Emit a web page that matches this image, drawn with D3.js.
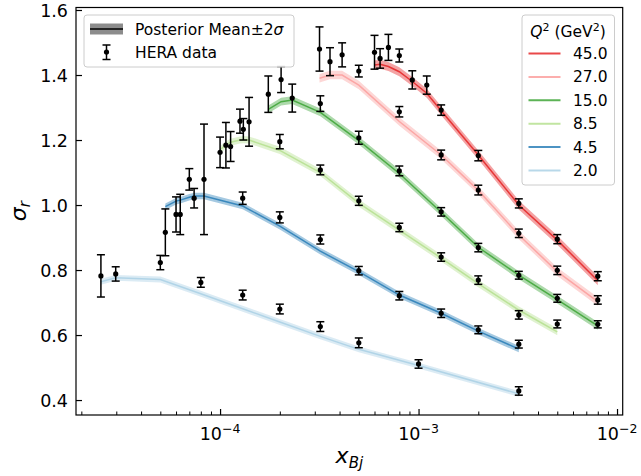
<!DOCTYPE html>
<html>
<head>
<meta charset="utf-8">
<script src="https://cdn.jsdelivr.net/npm/d3@7"></script>
<style>
  body { margin: 0; background: #fff; }
  svg { display: block; font-family: "DejaVu Sans", sans-serif; }
</style>
</head>
<body>
<div id="chart"></div>
<script>
// Q^2 bins (GeV^2), legend order
const q2Labels = ['45.0', '27.0', '15.0', '8.5', '4.5', '2.0'];
const colors = ['#e31a1c', '#fb9a99', '#33a02c', '#b2df8a', '#1f78b4', '#a6cee3'];

// Q^2 = 45
const x45 = [6.0e-4, 6.4e-4, 7.05e-4, 8.0e-4, 9.3e-4, 1.1e-3, 1.3e-3, 2.0e-3, 3.2e-3, 5.0e-3, 8.0e-3];
const data45 = [1.470, 1.451, 1.485, 1.460, 1.385, 1.369, 1.292, 1.152, 1.005, 0.895, 0.781];
const err45 = [0.052, 0.030, 0.040, 0.020, 0.028, 0.028, 0.016, 0.016, 0.014, 0.014, 0.014];
const fit45 = [1.431, 1.433, 1.426, 1.410, 1.380, 1.344, 1.290, 1.154, 1.000, 0.892, 0.767];

// Q^2 = 27
const x27 = [3.17e-4, 3.58e-4, 4.12e-4, 5.0e-4, 8.0e-4, 1.3e-3, 2.0e-3, 3.2e-3, 5.0e-3, 8.0e-3];
const data27 = [1.480, 1.441, 1.462, 1.412, 1.287, 1.154, 1.046, 0.913, 0.799, 0.708];
const err27 = [0.068, 0.043, 0.037, 0.018, 0.016, 0.015, 0.015, 0.013, 0.013, 0.013];
const fit27 = [1.390, 1.400, 1.400, 1.369, 1.257, 1.154, 1.045, 0.908, 0.795, 0.703];

// Q^2 = 15
const x15 = [1.75e-4, 2.03e-4, 2.31e-4, 3.2e-4, 5.0e-4, 8.0e-4, 1.3e-3, 2.0e-3, 3.2e-3, 5.0e-3, 8.0e-3];
const data15 = [1.341, 1.386, 1.329, 1.312, 1.207, 1.105, 0.979, 0.869, 0.784, 0.713, 0.633];
const err15 = [0.056, 0.040, 0.043, 0.024, 0.020, 0.015, 0.013, 0.013, 0.012, 0.012, 0.011];
const fit15 = [1.294, 1.318, 1.323, 1.285, 1.198, 1.097, 0.978, 0.870, 0.784, 0.709, 0.628];

// Q^2 = 8.5
const x8p5 = [1.0e-4, 1.07e-4, 1.13e-4, 1.26e-4, 1.31e-4, 1.4e-4, 2.0e-4, 3.2e-4, 5.0e-4, 8.0e-4, 1.3e-3, 2.0e-3, 3.2e-3, 5.0e-3];
const data8p5 = [1.162, 1.184, 1.180, 1.258, 1.233, 1.256, 1.195, 1.108, 1.013, 0.931, 0.840, 0.769, 0.662, 0.634];
const err8p5 = [0.047, 0.070, 0.046, 0.037, 0.033, 0.075, 0.022, 0.015, 0.014, 0.013, 0.013, 0.013, 0.013, 0.012];
const fit8p5 = [1.170, 1.185, 1.193, 1.200, 1.201, 1.200, 1.168, 1.100, 1.006, 0.923, 0.837, 0.758, 0.677, 0.610];

// Q^2 = 4.5
const x4p5 = [5.3e-5, 6.0e-5, 6.3e-5, 7.0e-5, 7.4e-5, 8.3e-5, 1.3e-4, 2.0e-4, 3.2e-4, 5.0e-4, 8.0e-4, 1.3e-3, 2.0e-3, 3.2e-3];
const data4p5 = [0.916, 0.971, 0.971, 1.079, 1.021, 1.079, 1.021, 0.962, 0.894, 0.798, 0.721, 0.667, 0.616, 0.572];
const err4p5 = [0.072, 0.054, 0.062, 0.033, 0.030, 0.170, 0.019, 0.017, 0.014, 0.013, 0.013, 0.013, 0.012, 0.012];
const fit4p5 = [0.995, 1.012, 1.015, 1.024, 1.028, 1.028, 0.997, 0.935, 0.858, 0.795, 0.723, 0.667, 0.612, 0.557];

// Q^2 = 2.0
const x2p0 = [2.51e-5, 2.98e-5, 5.0e-5, 8.0e-5, 1.3e-4, 2.0e-4, 3.2e-4, 5.0e-4, 1.0e-3, 3.2e-3];
const data2p0 = [0.782, 0.788, 0.823, 0.762, 0.723, 0.680, 0.626, 0.576, 0.511, 0.428];
const err2p0 = [0.065, 0.022, 0.022, 0.015, 0.015, 0.015, 0.015, 0.015, 0.013, 0.013];
const fit2p0 = [0.764, 0.776, 0.771, 0.727, 0.681, 0.640, 0.596, 0.556, 0.506, 0.419];

// 2 sigma half width of the posterior band per bin
const band2s = [0.014, 0.013, 0.012, 0.011, 0.010, 0.009];

const xTicks = [1e-4, 1e-3, 1e-2];
const xTickExp = ['-4', '-3', '-2'];
const yTicks = [0.4, 0.6, 0.8, 1.0, 1.2, 1.4, 1.6];

const series = [
  { x: x45, d: data45, e: err45, f: fit45 },
  { x: x27, d: data27, e: err27, f: fit27 },
  { x: x15, d: data15, e: err15, f: fit15 },
  { x: x8p5, d: data8p5, e: err8p5, f: fit8p5 },
  { x: x4p5, d: data4p5, e: err4p5, f: fit4p5 },
  { x: x2p0, d: data2p0, e: err2p0, f: fit2p0 },
];

const width = 641;
const height = 476;
const margin = { top: 7.5, right: 18.3, bottom: 61, left: 76 };

const svg = d3.select('#chart')
  .append('svg')
  .attr('width', width)
  .attr('height', height);

const x = d3.scaleLog()
  .domain([1.88e-5, 1.068e-2])
  .range([margin.left, width - margin.right]);

const y = d3.scaleLinear()
  .domain([0.354, 1.6077])
  .range([height - margin.bottom, margin.top]);

// clip for curves
svg.append('clipPath').attr('id', 'clip')
  .append('rect')
  .attr('x', margin.left).attr('y', margin.top)
  .attr('width', width - margin.left - margin.right)
  .attr('height', height - margin.top - margin.bottom);

const plot = svg.append('g').attr('clip-path', 'url(#clip)');

// bands and mean lines, drawn from the lowest Q^2 up
series.map((s, i) => ({ s, i })).reverse().forEach(({ s, i }) => {
  const pts = s.x.map((xv, j) => ({ x: xv, f: s.f[j] }));
  const area = d3.area()
    .x(d => x(d.x))
    .y0(d => y(d.f - band2s[i]))
    .y1(d => y(d.f + band2s[i]));
  const line = d3.line()
    .x(d => x(d.x))
    .y(d => y(d.f));
  plot.append('path')
    .attr('d', area(pts))
    .attr('fill', colors[i])
    .attr('fill-opacity', 0.4);
  plot.append('path')
    .attr('d', line(pts))
    .attr('fill', 'none')
    .attr('stroke', colors[i])
    .attr('stroke-opacity', 0.8)
    .attr('stroke-width', 1.5);
});

// HERA data with error bars
const pts = series.flatMap(s => s.x.map((xv, j) => ({ x: xv, v: s.d[j], e: s.e[j] })));
const eb = svg.append('g').attr('stroke', '#000').attr('stroke-width', 1.5);
eb.selectAll('line.bar')
  .data(pts)
  .join('line')
  .attr('class', 'bar')
  .attr('x1', d => x(d.x)).attr('x2', d => x(d.x))
  .attr('y1', d => y(d.v - d.e)).attr('y2', d => y(d.v + d.e));
eb.selectAll('line.capt')
  .data(pts)
  .join('line')
  .attr('class', 'capt')
  .attr('x1', d => x(d.x) - 4).attr('x2', d => x(d.x) + 4)
  .attr('y1', d => y(d.v + d.e)).attr('y2', d => y(d.v + d.e));
eb.selectAll('line.capb')
  .data(pts)
  .join('line')
  .attr('class', 'capb')
  .attr('x1', d => x(d.x) - 4).attr('x2', d => x(d.x) + 4)
  .attr('y1', d => y(d.v - d.e)).attr('y2', d => y(d.v - d.e));
svg.append('g')
  .selectAll('circle')
  .data(pts)
  .join('circle')
  .attr('cx', d => x(d.x))
  .attr('cy', d => y(d.v))
  .attr('r', 2.6)
  .attr('fill', '#000');

// axes
const minorX = [];
for (let p = -5; p <= -2; p++) {
  for (let k = 2; k <= 9; k++) {
    const v = k * Math.pow(10, p);
    if (v > x.domain()[0] && v < x.domain()[1]) minorX.push(v);
  }
}

function xAxis(g) {
  g.attr('transform', `translate(0,${height - margin.bottom})`)
    .call(d3.axisBottom(x).tickValues(xTicks).tickSize(-6).tickFormat(''))
    .call(g => g.select('.domain').remove())
    .selectAll('line').attr('stroke-width', 1.2);
}
function xMinor(g) {
  g.attr('transform', `translate(0,${height - margin.bottom})`)
    .call(d3.axisBottom(x).tickValues(minorX).tickSize(-3.5).tickFormat(''))
    .call(g => g.select('.domain').remove())
    .selectAll('line').attr('stroke-width', 1);
}
function yAxis(g) {
  g.attr('transform', `translate(${margin.left},0)`)
    .call(d3.axisLeft(y).tickValues(yTicks).tickSize(-6).tickPadding(8).tickFormat(d3.format('.1f')))
    .call(g => g.select('.domain').remove())
    .attr('font-size', '17.5px')
    .attr('font-family', '"DejaVu Sans"');
  g.selectAll('text').attr('fill', '#000').attr('dy', '0.36em');
  g.selectAll('line').attr('stroke-width', 1.2);
}

svg.append('g').call(xAxis);
svg.append('g').call(xMinor);
svg.append('g').call(yAxis);

// x tick labels 10^n
const xl = svg.append('g').attr('font-size', '17.5px').attr('fill', '#000');
xTicks.forEach((t, i) => {
  const txt = xl.append('text')
    .attr('x', x(t))
    .attr('y', 440)
    .attr('text-anchor', 'middle');
  txt.append('tspan').text('10');
  txt.append('tspan').attr('dy', -7.5).attr('font-size', '12.5px').text('\u2212' + xTickExp[i].slice(1));
});

// frame
svg.append('rect')
  .attr('x', margin.left).attr('y', margin.top)
  .attr('width', width - margin.left - margin.right)
  .attr('height', height - margin.top - margin.bottom)
  .attr('fill', 'none')
  .attr('stroke', '#000')
  .attr('stroke-width', 1.2);

// axis labels
const yl = svg.append('text')
  .attr('transform', `translate(26,${(margin.top + height - margin.bottom) / 2}) rotate(-90)`)
  .attr('text-anchor', 'middle')
  .attr('font-size', '22px');
yl.append('tspan').attr('font-style', 'italic').text('\u03c3');
yl.append('tspan').attr('font-style', 'italic').attr('font-size', '15px').attr('dy', 4).text('r');

const xlab = svg.append('text')
  .attr('x', (margin.left + width - margin.right) / 2)
  .attr('y', 463)
  .attr('text-anchor', 'middle')
  .attr('font-size', '22px');
xlab.append('tspan').attr('font-style', 'italic').text('x');
xlab.append('tspan').attr('font-style', 'italic').attr('font-size', '15px').attr('dy', 5).text('Bj');

// legend: posterior / data
const lg1 = svg.append('g').attr('font-size', '15.5px');
lg1.append('rect')
  .attr('x', 84).attr('y', 15).attr('width', 210).attr('height', 52).attr('rx', 3)
  .attr('fill', '#fff').attr('fill-opacity', 0.8)
  .attr('stroke', '#cccccc').attr('stroke-width', 1);
lg1.append('rect')
  .attr('x', 90).attr('y', 23.5).attr('width', 33).attr('height', 11)
  .attr('fill', '#000').attr('fill-opacity', 0.45);
lg1.append('line')
  .attr('x1', 90).attr('x2', 123).attr('y1', 29).attr('y2', 29)
  .attr('stroke', '#000').attr('stroke-width', 1.5);
lg1.append('text').attr('x', 135).attr('y', 34.5)
  .html('Posterior Mean\u00b12<tspan font-style="italic">\u03c3</tspan>');
const lgE = lg1.append('g').attr('stroke', '#000').attr('stroke-width', 1.5);
lgE.append('line').attr('x1', 106.5).attr('x2', 106.5).attr('y1', 45).attr('y2', 59.5);
lgE.append('line').attr('x1', 102.5).attr('x2', 110.5).attr('y1', 45).attr('y2', 45);
lgE.append('line').attr('x1', 102.5).attr('x2', 110.5).attr('y1', 59.5).attr('y2', 59.5);
lg1.append('circle').attr('cx', 106.5).attr('cy', 52).attr('r', 2.6).attr('fill', '#000');
lg1.append('text').attr('x', 135).attr('y', 57.5).text('HERA data');

// legend: Q^2 bins
const lg2 = svg.append('g').attr('font-size', '15.5px');
lg2.append('rect')
  .attr('x', 522).attr('y', 15).attr('width', 92.5).attr('height', 170).attr('rx', 3)
  .attr('fill', '#fff').attr('fill-opacity', 0.8)
  .attr('stroke', '#cccccc').attr('stroke-width', 1);
lg2.append('text').attr('x', 568).attr('y', 37).attr('text-anchor', 'middle')
  .html('<tspan font-style="italic">Q</tspan><tspan dy="-6" font-size="11px">2</tspan><tspan dy="6"> (GeV</tspan><tspan dy="-6" font-size="11px">2</tspan><tspan dy="6">)</tspan>');
q2Labels.forEach((lab, i) => {
  const cy = 53.5 + i * 23.4;
  lg2.append('line')
    .attr('x1', 528.5).attr('x2', 560.5).attr('y1', cy).attr('y2', cy)
    .attr('stroke', colors[i]).attr('stroke-opacity', 0.8).attr('stroke-width', 2);
  lg2.append('text').attr('x', 573).attr('y', cy + 5.5).text(lab);
});
</script>
</body>
</html>
